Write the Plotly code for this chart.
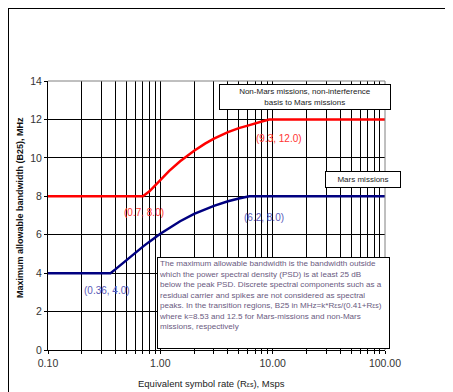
import plotly.graph_objects as go

# Non-Mars missions curve (red)
red_x = [0.1, 0.7, 0.8, 1.0, 1.2, 1.5, 2.0, 2.5, 3.0, 4.0, 5.0, 6.0, 7.0, 8.0, 9.3, 100]
red_y = [8.0, 8.0, 8.26, 8.87, 9.32, 9.82, 10.37, 10.74, 11.0, 11.34, 11.55, 11.68, 11.81, 11.89, 12.0, 12.0]

# Mars missions curve (blue)
blue_x = [0.1, 0.36, 0.4, 0.5, 0.6, 0.7, 0.8, 1.0, 1.5, 2.0, 3.0, 4.0, 5.0, 6.2, 100]
blue_y = [4.0, 4.0, 4.21, 4.69, 5.07, 5.38, 5.64, 6.05, 6.70, 7.08, 7.50, 7.74, 7.88, 8.0, 8.0]

x_tickvals = [0.1, 1, 10, 100]
x_ticktext = ["0.10", "1.00", "10.00", "100.00"]
y_tickvals = [0, 2, 4, 6, 8, 10, 12, 14]

point_labels = [
    ("(0.7, 8.0)", "#ff3333"),
    ("(9.3, 12.0)", "#ff3333"),
    ("(6.2, 8.0)", "#5a5ab8"),
    ("(0.36, 4.0)", "#5a5ab8"),
]

FONT = "Liberation Sans, Arial, sans-serif"

fig = go.Figure()
fig.add_trace(go.Scatter(x=red_x, y=red_y, mode="lines",
                         line=dict(color="#ff0000", width=2.5), showlegend=False))
fig.add_trace(go.Scatter(x=blue_x, y=blue_y, mode="lines",
                         line=dict(color="#000080", width=2.5), showlegend=False))

fig.update_layout(
    width=453, height=392,
    margin=dict(l=40, r=76, t=73, b=50),
    paper_bgcolor="white", plot_bgcolor="white",
    font=dict(family=FONT, size=10, color="#333333"),
    showlegend=False,
)
fig.update_xaxes(
    type="log", range=[-1, 2],
    tickvals=x_tickvals, ticktext=x_ticktext,
    showgrid=True, gridcolor="black", gridwidth=1,
    minor=dict(showgrid=True, gridcolor="black", gridwidth=1, dtick="D1",
               ticks="outside", ticklen=3, tickcolor="black"),
    ticks="outside", ticklen=3, tickcolor="black",
    showline=True, linecolor="black", linewidth=1,
    tickfont=dict(size=10.5, color="#333333"),
    zeroline=False,
)
fig.update_yaxes(
    range=[0, 14], tickvals=y_tickvals,
    showgrid=True, gridcolor="black", gridwidth=1,
    ticks="outside", ticklen=3, tickcolor="black",
    showline=True, linecolor="black", linewidth=1,
    tickfont=dict(size=10.5, color="#333333"),
    zeroline=False,
)

# gray plot-area frame (top and right)
fig.add_shape(type="line", xref="paper", yref="paper", x0=0, x1=1, y0=1, y1=1,
              line=dict(color="#808080", width=1))
fig.add_shape(type="line", xref="paper", yref="paper", x0=1, x1=1, y0=0, y1=1,
              line=dict(color="#808080", width=1))
# outer chart frame (left and top edges)
fig.add_shape(type="line", xref="paper", yref="paper", x0=-40/337, x1=-40/337, y0=-50/269, y1=73/269 + 1,
              line=dict(color="black", width=2))
fig.add_shape(type="line", xref="paper", yref="paper", x0=-40/337, x1=1 + 76/337, y0=1 + 72.5/269, y1=1 + 72.5/269,
              line=dict(color="black", width=1))


def pxy(x, y):
    return (x - 40) / 337, (342 - y) / 269


label_pos = [(136, 204), (271, 130), (256, 209), (99, 282)]
for (txt, col), (lx, ly) in zip(point_labels, label_pos):
    ax_, ay_ = pxy(lx, ly)
    fig.add_annotation(x=ax_, y=ay_, xref="paper", yref="paper", text=txt,
                       showarrow=False, font=dict(size=10, color=col, family=FONT),
                       xanchor="center", yanchor="middle")

# boxed notes
x0, y0 = pxy(297, 89)
fig.add_annotation(x=x0, y=y0, xref="paper", yref="paper",
                   text="Non-Mars missions, non-interference<br>basis to Mars missions",
                   showarrow=False, font=dict(size=8, color="#222222", family=FONT),
                   bgcolor="white", bordercolor="black", borderwidth=1,
                   width=168, height=22, align="center", xanchor="center", yanchor="middle")
x0, y0 = pxy(355, 171.5)
fig.add_annotation(x=x0, y=y0, xref="paper", yref="paper",
                   text="Mars missions",
                   showarrow=False, font=dict(size=8, color="#222222", family=FONT),
                   bgcolor="white", bordercolor="black", borderwidth=1,
                   width=72, height=13, align="center", xanchor="center", yanchor="middle")

note = ("The maximum allowable bandwidth is the bandwidth outside<br>"
        "which the power spectral density (PSD) is at least 25 dB<br>"
        "below the peak PSD. Discrete spectral components such as a<br>"
        "residual carrier and spikes are not considered as spectral<br>"
        "peaks. In the transition regions, B25 in MHz=k*R<span style='font-size:7px'>εs</span>/(0.41+R<span style='font-size:7px'>εs</span>)<br>"
        "where k=8.53 and 12.5 for Mars-missions and non-Mars<br>"
        "missions, respectively")
x0, y0 = pxy(149, 249)
fig.add_annotation(x=x0, y=y0, xref="paper", yref="paper", text=note,
                   showarrow=False, font=dict(size=8.1, color="#6a5a80", family=FONT),
                   bgcolor="white", bordercolor="black", borderwidth=1,
                   width=229, height=88, align="left", valign="top",
                   xanchor="left", yanchor="top")

# axis titles
x0, y0 = pxy(12, 200)
fig.add_annotation(x=x0, y=y0, xref="paper", yref="paper",
                   text="<b>Maximum allowable bandwidth (B25), MHz</b>", textangle=-90,
                   showarrow=False, font=dict(size=9, color="#111111", family=FONT),
                   xanchor="center", yanchor="middle")
x0, y0 = pxy(203, 375)
fig.add_annotation(x=x0, y=y0, xref="paper", yref="paper",
                   text="Equivalent symbol rate (R<span style='font-size:7px'>εs</span>), Msps",
                   showarrow=False, font=dict(size=9.5, color="#222222", family=FONT),
                   xanchor="center", yanchor="middle")

fig.write_html("out.html")
